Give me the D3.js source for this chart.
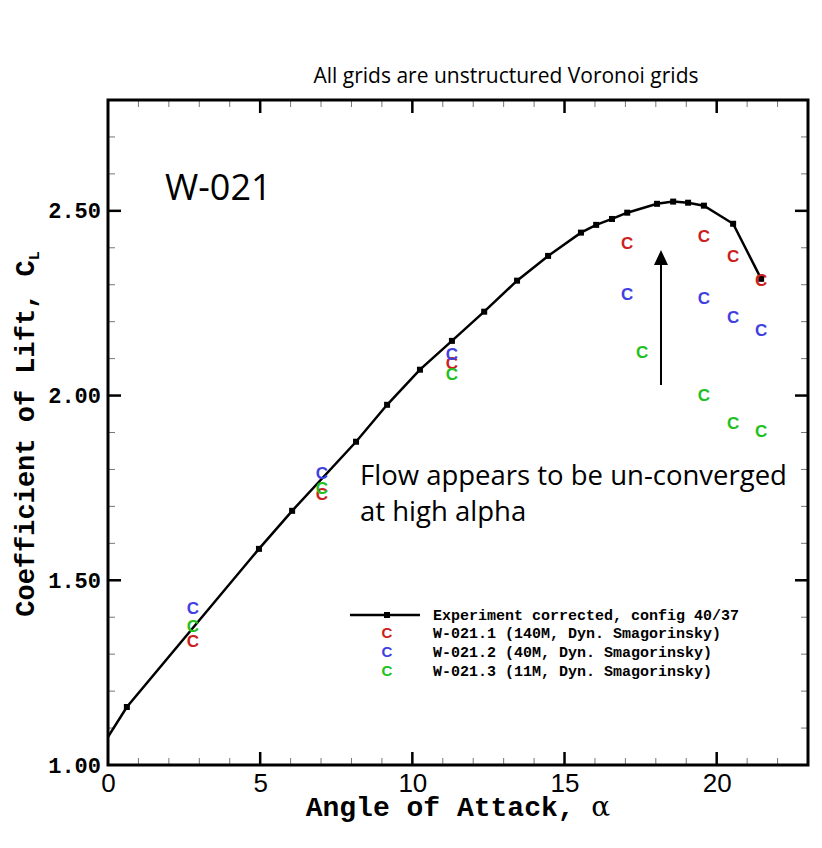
<!DOCTYPE html>
<html>
<head>
<meta charset="utf-8">
<script src="https://cdn.jsdelivr.net/npm/d3@7"></script>
<style>
  body { margin: 0; background: #fff; }
  svg { display: block; }
</style>
</head>
<body>
<svg id="chart" width="822" height="848"></svg>
<script>
// experiment curve (alpha, CL)
const expAlpha = [-0.5, 0.62, 4.96, 6.05, 8.15, 9.17, 10.25, 11.3, 12.36, 13.44, 14.46, 15.54, 16.04, 16.56, 17.06, 18.04, 18.57, 19.06, 19.58, 20.54, 21.46];
const expCL    = [1.011, 1.157, 1.585, 1.688, 1.875, 1.975, 2.07, 2.148, 2.227, 2.311, 2.378, 2.441, 2.462, 2.478, 2.495, 2.519, 2.525, 2.522, 2.514, 2.465, 2.316];

// simulations
const w1Alpha = [2.79, 7.03, 11.3, 17.06, 19.58, 20.54, 21.46];
const w1CL    = [1.336, 1.734, 2.089, 2.413, 2.432, 2.378, 2.313];
const w2Alpha = [2.79, 7.03, 11.3, 17.06, 19.58, 20.54, 21.46];
const w2CL    = [1.425, 1.791, 2.113, 2.275, 2.265, 2.213, 2.178];
const w3Alpha = [2.79, 7.03, 11.3, 17.55, 19.58, 20.54, 21.46];
const w3CL    = [1.376, 1.75, 2.059, 2.118, 2.002, 1.926, 1.904];

const xTicks = [0, 5, 10, 15, 20];
const yTicks = [1.0, 1.5, 2.0, 2.5];
const legendLabels = [
  "Experiment corrected, config 40/37",
  "W-021.1 (140M, Dyn. Smagorinsky)",
  "W-021.2 (40M, Dyn. Smagorinsky)",
  "W-021.3 (11M, Dyn. Smagorinsky)"
];
const seriesColors = ["#cc2020", "#4040e0", "#20c020"];

const margin = { top: 100, left: 108 };
const width = 700, height = 665;

const svg = d3.select("#chart");
const g = svg.append("g").attr("transform", `translate(${margin.left},${margin.top})`);

const x = d3.scaleLinear().domain([0, 23]).range([0, width]);
const y = d3.scaleLinear().domain([1.0, 2.8]).range([height, 0]);

const mono = "'Liberation Mono', 'Courier New', monospace";
const sans = "'Liberation Sans', Arial, sans-serif";
const calib = "'Open Sans', 'Noto Sans', sans-serif";

// title
svg.append("text").attr("x", 506).attr("y", 83).attr("text-anchor", "middle")
  .style("font-family", calib).style("font-size", "21px").text("All grids are unstructured Voronoi grids");

g.append("defs").append("clipPath").attr("id", "clip")
  .append("rect").attr("width", width).attr("height", height);

// ticks (inward, all four sides)
const minorX = d3.range(1, 23).filter(d => d % 5 !== 0);
const minorY = d3.range(11, 28).map(d => d / 10).filter(d => Math.round(d * 10) % 5 !== 0);

function tickLines(sel, vals, isX, len, w, col) {
  vals.forEach(v => {
    if (isX) {
      sel.append("line").attr("x1", x(v)).attr("x2", x(v)).attr("y1", height).attr("y2", height - len);
      sel.append("line").attr("x1", x(v)).attr("x2", x(v)).attr("y1", 0).attr("y2", len);
    } else {
      sel.append("line").attr("y1", y(v)).attr("y2", y(v)).attr("x1", 0).attr("x2", len);
      sel.append("line").attr("y1", y(v)).attr("y2", y(v)).attr("x1", width).attr("x2", width - len);
    }
  });
  sel.selectAll("line").attr("stroke", col).attr("stroke-width", w);
}
tickLines(g.append("g"), minorX, true, 7, 1, "#777");
tickLines(g.append("g"), minorY, false, 7, 1, "#777");
tickLines(g.append("g"), xTicks.filter(d => d > 0), true, 13, 2.5, "#000");
tickLines(g.append("g"), yTicks.filter(d => d > 1), false, 13, 2.5, "#000");

// tick labels via axes
const xAxis = g.append("g").attr("transform", `translate(0,${height})`)
  .call(d3.axisBottom(x).tickValues(xTicks).tickSize(0).tickPadding(9));
xAxis.select(".domain").remove();
xAxis.selectAll("text").style("font-family", sans).style("font-size", "26px").attr("fill", "#000");

const yAxis = g.append("g")
  .call(d3.axisLeft(y).tickValues(yTicks).tickSize(0).tickPadding(7).tickFormat(d3.format(".2f")));
yAxis.select(".domain").remove();
yAxis.selectAll("text").style("font-family", mono).style("font-size", "22px").style("font-weight", "bold").attr("fill", "#000");

// frame
g.append("rect").attr("width", width).attr("height", height)
  .attr("fill", "none").attr("stroke", "#000").attr("stroke-width", 3);

// experiment curve
const expData = expAlpha.map((a, i) => ({ a, c: expCL[i] }));
const plot = g.append("g").attr("clip-path", "url(#clip)");
plot.append("path").datum(expData)
  .attr("fill", "none").attr("stroke", "#000").attr("stroke-width", 2.5)
  .attr("d", d3.line().x(d => x(d.a)).y(d => y(d.c)));
plot.selectAll(".mk").data(expData).enter().append("rect")
  .attr("x", d => x(d.a) - 3).attr("y", d => y(d.c) - 3)
  .attr("width", 6).attr("height", 6).attr("fill", "#000");

// simulation symbols
[[w1Alpha, w1CL], [w2Alpha, w2CL], [w3Alpha, w3CL]].forEach(([as, cs], k) => {
  plot.selectAll(".s" + k).data(as.map((a, i) => ({ a, c: cs[i] }))).enter().append("text")
    .attr("x", d => x(d.a)).attr("y", d => y(d.c)).attr("dy", "0.36em")
    .attr("text-anchor", "middle").attr("fill", seriesColors[k])
    .style("font-family", sans).style("font-size", "17px").style("font-weight", "bold").text("C");
});

// axis titles
svg.append("text").attr("x", 458).attr("y", 816).attr("text-anchor", "middle")
  .style("font-family", mono).style("font-size", "28px").style("font-weight", "bold")
  .text("Angle of Attack, ").append("tspan").style("font-family", "'DejaVu Serif', serif").style("font-weight", "normal").text("α");

const yl = svg.append("text").attr("transform", "translate(34,434) rotate(-90)").attr("text-anchor", "middle")
  .style("font-family", mono).style("font-size", "27px").style("font-weight", "bold");
yl.append("tspan").text("Coefficient of Lift, C");
yl.append("tspan").attr("dy", 5).style("font-size", "15px").text("L");

// annotations
svg.append("text").attr("x", 165).attr("y", 200).style("font-family", calib).style("font-size", "36px").text("W-021");
svg.append("text").attr("x", 360).attr("y", 485).style("font-family", calib).style("font-size", "27.5px").text("Flow appears to be un-converged");
svg.append("text").attr("x", 360).attr("y", 521).style("font-family", calib).style("font-size", "27.5px").text("at high alpha");

svg.append("line").attr("x1", 661).attr("x2", 661).attr("y1", 385).attr("y2", 262)
  .attr("stroke", "#000").attr("stroke-width", 2);
svg.append("path").attr("d", "M661,250 L654,265 L668,265 Z").attr("fill", "#000");

// legend
const lg = svg.append("g");
const rowY = [615, 633, 652, 671];
lg.append("line").attr("x1", 350).attr("x2", 420).attr("y1", rowY[0]).attr("y2", rowY[0])
  .attr("stroke", "#000").attr("stroke-width", 2.5);
lg.append("rect").attr("x", 384).attr("y", rowY[0] - 3).attr("width", 6).attr("height", 6).attr("fill", "#000");
seriesColors.forEach((c, i) => {
  lg.append("text").attr("x", 387).attr("y", rowY[i + 1]).attr("dy", "0.36em").attr("text-anchor", "middle")
    .attr("fill", c).style("font-family", sans).style("font-size", "15px").style("font-weight", "bold").text("C");
});
legendLabels.forEach((t, i) => {
  lg.append("text").attr("x", 433).attr("y", rowY[i]).attr("dy", "0.36em")
    .style("font-family", mono).style("font-size", "15px").style("font-weight", "bold").text(t);
});
</script>
</body>
</html>
